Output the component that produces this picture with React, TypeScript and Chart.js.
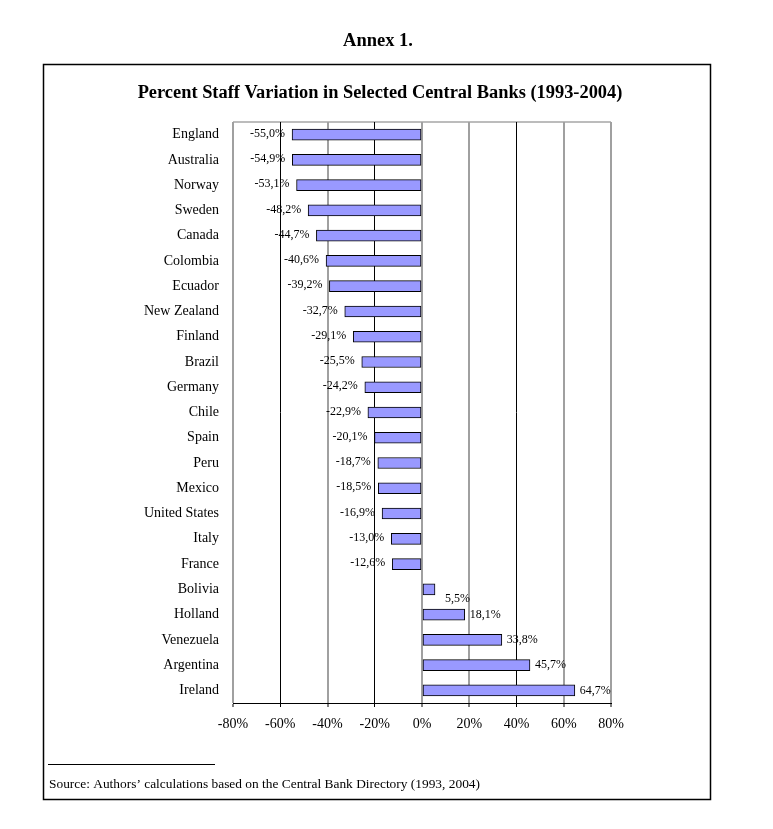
import React, { useEffect, useRef } from "react";
import { Chart, registerables } from "chart.js";

Chart.register(...registerables);

const countries = [
  "England", "Australia", "Norway", "Sweden", "Canada", "Colombia", "Ecuador",
  "New Zealand", "Finland", "Brazil", "Germany", "Chile", "Spain", "Peru",
  "Mexico", "United States", "Italy", "France", "Bolivia", "Holland",
  "Venezuela", "Argentina", "Ireland",
];
const staffVariation = [
  -55.0, -54.9, -53.1, -48.2, -44.7, -40.6, -39.2, -32.7, -29.1, -25.5, -24.2,
  -22.9, -20.1, -18.7, -18.5, -16.9, -13.0, -12.6, 5.5, 18.1, 33.8, 45.7, 64.7,
];
const axisTicks = [-80, -60, -40, -20, 0, 20, 40, 60, 80];
const darkGridTicks = [-60, -20, 40];

const annexText = "Annex 1.";
const titleText = "Percent Staff Variation in Selected Central Banks (1993-2004)";
const sourceText = "Source: Authors\u2019 calculations based on the Central Bank Directory (1993, 2004)";

const SERIF = "'Liberation Serif', 'Times New Roman', serif";

const fmt = (v: number) => v.toFixed(1).replace(".", ",") + "%";

const pagePlugin = {
  id: "page",
  beforeDraw(chart: any) {
    const ctx = chart.ctx;
    ctx.save();
    ctx.fillStyle = "#fff";
    ctx.fillRect(0, 0, chart.width, chart.height);
    ctx.fillStyle = "#000";
    ctx.textAlign = "center";
    ctx.textBaseline = "middle";
    ctx.font = `bold 18.5px ${SERIF}`;
    ctx.fillText(annexText, 378, 41);
    ctx.font = `bold 18.4px ${SERIF}`;
    ctx.fillText(titleText, 380, 93);
    // outer frame
    ctx.strokeStyle = "#000";
    ctx.lineWidth = 1.5;
    ctx.strokeRect(43.5, 64.5, 667, 735);
    // footnote rule
    ctx.lineWidth = 1;
    ctx.beginPath();
    ctx.moveTo(48, 764.5);
    ctx.lineTo(215, 764.5);
    ctx.stroke();
    ctx.textAlign = "left";
    ctx.font = `13.4px ${SERIF}`;
    ctx.fillText(sourceText, 49, 784);
    // plot top border
    const a = chart.chartArea;
    ctx.strokeStyle = "#a6a6a6";
    ctx.lineWidth = 1.5;
    ctx.beginPath();
    ctx.moveTo(a.left, a.top);
    ctx.lineTo(a.right, a.top);
    ctx.stroke();
    ctx.restore();
  },
};

const labelPlugin = {
  id: "barLabels",
  afterDatasetsDraw(chart: any) {
    const ctx = chart.ctx;
    const meta = chart.getDatasetMeta(0);
    ctx.save();
    ctx.font = `12px ${SERIF}`;
    ctx.fillStyle = "#000";
    ctx.textBaseline = "middle";
    meta.data.forEach((el: any, i: number) => {
      const v = staffVariation[i];
      if (v < 0) {
        ctx.textAlign = "right";
        ctx.fillText(fmt(v), el.x - 7, el.y - 1);
      } else if (v < 10) {
        ctx.textAlign = "left";
        ctx.fillText(fmt(v), el.x + 10, el.y + 10);
      } else {
        ctx.textAlign = "left";
        ctx.fillText(fmt(v), el.x + 5, el.y);
      }
    });
    ctx.restore();
  },
};

export default function App() {
  const ref = useRef<HTMLCanvasElement>(null);
  useEffect(() => {
    if (!ref.current) return;
    const chart = new Chart(ref.current, {
      type: "bar",
      data: {
        labels: countries,
        datasets: [
          {
            data: staffVariation,
            backgroundColor: "#9999ff",
            borderColor: "#000",
            borderWidth: 1,
            borderSkipped: false,
            barThickness: 11,
          },
        ],
      },
      options: {
        indexAxis: "y",
        animation: false,
        responsive: false,
        devicePixelRatio: 1,
        layout: { padding: { top: 122, right: 162, bottom: 96, left: 0 } },
        plugins: { legend: { display: false }, tooltip: { enabled: false }, title: { display: false } },
        scales: {
          x: {
            min: -80,
            max: 80,
            afterBuildTicks: (s: any) => {
              s.ticks = axisTicks.map((v) => ({ value: v }));
            },
            afterFit: (s: any) => {
              s.height = 30;
            },
            ticks: {
              callback: (v: any) => v + "%",
              color: "#000",
              font: { family: SERIF, size: 14 },
              padding: 9,
              maxRotation: 0,
            },
            grid: {
              color: (c: any) => (darkGridTicks.includes(c.tick?.value) ? "#000" : "#a0a0a0"),
              lineWidth: (c: any) => (darkGridTicks.includes(c.tick?.value) ? 1 : 2),
              tickColor: "#000",
              tickLength: 4,
              tickWidth: 1,
            },
            border: { display: true, color: "#000", width: 1 },
          },
          y: {
            afterFit: (s: any) => {
              s.width = 233;
            },
            ticks: {
              color: "#000",
              font: { family: SERIF, size: 14 },
              padding: 6,
              autoSkip: false,
            },
            grid: { display: false },
            border: { display: false },
          },
        },
      },
      plugins: [pagePlugin, labelPlugin],
    });
    return () => chart.destroy();
  }, []);
  return (
    <div style={{ position: "absolute", left: 0, top: 0, width: 773, height: 829 }}>
      <canvas ref={ref} width={773} height={829} style={{ display: "block" }} />
    </div>
  );
}
